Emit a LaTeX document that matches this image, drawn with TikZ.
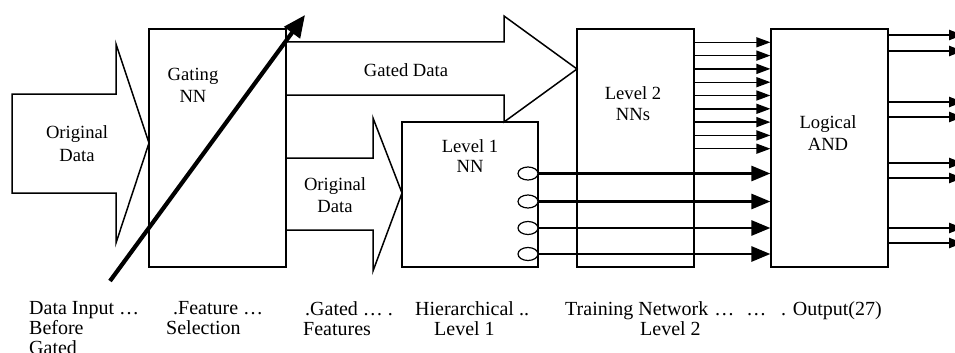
\documentclass[tikz,border=0pt]{standalone}
\usepackage{fontspec}
\setmainfont{Liberation Serif}
\usetikzlibrary{arrows.meta,shapes.geometric}

% zero-width strut fixing the height of a label's first line
\newcommand\lnstrut{\rule{0pt}{13pt}}

\begin{document}
\begin{tikzpicture}[x=1pt,y=-1pt,
  box/.style={draw,line width=1.2pt,rectangle,inner sep=0pt},
  bigarrow/.style={draw,line width=1.5pt,line join=miter},
  lbl/.style={inner sep=0pt,align=center,anchor=north,font=\fontsize{18.6}{22}\selectfont},
  stagecap/.style={inner sep=0pt,align=left,anchor=north west,font=\fontsize{20}{20}\selectfont},
  port/.style={draw,ellipse,line width=1.2pt,inner sep=0pt,minimum width=20pt,minimum height=13pt,fill=white},
  thinarr/.style={line width=1.4pt,-{Triangle[length=14pt,width=10pt]}},
  thickarr/.style={line width=2.7pt,-{Triangle[length=19pt,width=15pt]}},
  outarr/.style={line width=2.3pt,-{Triangle[length=14pt,width=10pt]}},
  gatearr/.style={line width=4.2pt,-{Triangle[length=22pt,width=19pt]}}
]
\useasboundingbox (0,0) rectangle (955,353);
\clip (0,0) rectangle (955,353);

% processing blocks
\node[box,minimum width=137pt,minimum height=238pt] (gate) at (217.5,148) {};
\node[box,minimum width=136pt,minimum height=145pt] (lvl1) at (470,194.5) {};
\node[box,minimum width=117pt,minimum height=238pt] (lvl2) at (635.5,148) {};
\node[box,minimum width=117pt,minimum height=238pt] (logic) at (829.5,148) {};

% block arrows carrying the data
\draw[bigarrow] (12,94) -- (116,94) -- (116,44) -- (149,143) -- (116,243) -- (116,193) -- (12,193) -- cycle;
\draw[bigarrow] (286,42) -- (504,42) -- (504,16) -- (577,69) -- (504,122) -- (504,95) -- (286,95);
\draw[bigarrow] (286,158) -- (373,158) -- (373,118) -- (402,193) -- (373,271) -- (373,230) -- (286,230);

% texts inside blocks and arrows
\node[lbl,font=\fontsize{18.6}{23}\selectfont] (t-orig) at (77,125) {\lnstrut Original\\Data};
\node[lbl] (t-gate) at (193,67) {\lnstrut Gating\\NN};
\node[lbl] (t-gated) at (406,63) {\lnstrut Gated Data};
\node[lbl] (t-orig2) at (335,177) {\lnstrut Original\\Data};
\node[lbl,font=\fontsize{18.6}{20}\selectfont] (t-l1) at (470,139.7) {\lnstrut Level 1\\NN};
\node[lbl,font=\fontsize{18.6}{20.7}\selectfont] (t-l2) at (633,86.3) {\lnstrut Level 2\\NNs};
\node[lbl,font=\fontsize{18.6}{22.7}\selectfont] (t-and) at (828,115) {\lnstrut Logical\\AND};

% output ports of the level 1 network
\node[port] (e1) at (528,173.5) {};
\node[port] (e2) at (528,201.5) {};
\node[port] (e3) at (528,228) {};
\node[port] (e4) at (528,254) {};
\foreach \p in {e1,e2,e3,e4}
  \draw[thickarr] (\p.east) -- (logic.west |- \p.east);

% level 2 outputs into the AND block
\foreach \k in {0,...,8} {
  \pgfmathsetmacro\yy{42.3+13.3*\k}
  \draw[thinarr] (lvl2.east |- 0,\yy) -- (logic.west |- 0,\yy);
}

% final outputs
\foreach \yy in {35,51,102,117,163,178,228,243} {
  \coordinate (o\yy) at (963,\yy);
  \draw[outarr] (logic.east |- o\yy) -- (o\yy);
}

% gating arrow across the feature selection block
\coordinate (gs) at (110,281);
\coordinate (ge) at (305,15);
\draw[gatearr] (gs) -- (ge);

% stage captions
\node[stagecap] (c1) at (29,301) {\lnstrut Data Input …\\Before\\Gated};
\node[stagecap] (c2) at (166,301) {\lnstrut\hspace*{7pt}.Feature …\\Selection};
\node[stagecap] (c3) at (303,301) {\lnstrut\hspace*{2pt}.Gated … .\\Features};
\node[stagecap] (c4) at (415,301) {\lnstrut Hierarchical ..\\\hspace*{19pt}Level 1};
\node[stagecap] (c5) at (565,301) {\lnstrut Training Network\hspace{1pt} …\hspace{7pt} …\\\hspace*{75pt}Level 2};
\node[stagecap] (c6) at (781,301) {\lnstrut . Output(27)};
\end{tikzpicture}
\end{document}
